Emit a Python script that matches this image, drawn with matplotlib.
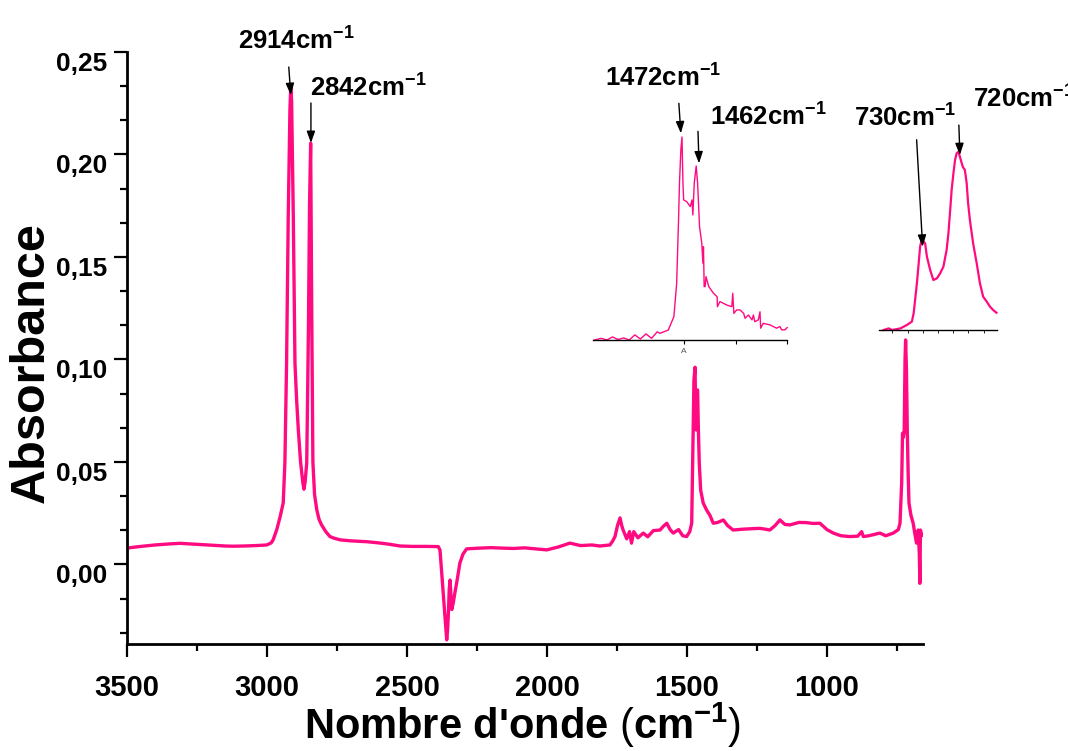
import numpy as np
import matplotlib
matplotlib.use("Agg")
import matplotlib.pyplot as plt
from matplotlib.ticker import MultipleLocator

# main spectrum (wavenumber in cm-1, absorbance)
wavenumber = [3500, 3450, 3400, 3350, 3310, 3250, 3200, 3150, 3121, 3080,
              3040, 3001, 2985, 2978, 2965, 2953, 2942, 2936, 2930, 2924,
              2918, 2915, 2912, 2906, 2900, 2894, 2888, 2880, 2872, 2868,
              2864, 2858, 2852, 2848, 2844, 2840, 2836, 2830, 2822, 2814,
              2805, 2790, 2775, 2760, 2739, 2700, 2644, 2600, 2560, 2525,
              2480, 2430, 2400, 2388, 2382, 2376, 2370, 2364, 2358, 2355,
              2352, 2349, 2346, 2343, 2340, 2335, 2329, 2320, 2311, 2300,
              2287, 2250, 2200, 2168, 2120, 2080, 2040, 2001, 1960, 1918,
              1880, 1840, 1811, 1790, 1775, 1765, 1757, 1748, 1739, 1733,
              1728, 1715, 1705, 1698, 1690, 1675, 1656, 1640, 1620, 1596,
              1585, 1572, 1560, 1549, 1530, 1515, 1501, 1490, 1483, 1478,
              1475, 1471, 1469, 1467, 1464, 1462, 1459, 1456, 1451, 1442,
              1430, 1418, 1406, 1390, 1370, 1355, 1335, 1300, 1260, 1239,
              1220, 1204, 1185, 1168, 1150, 1132, 1100, 1073, 1050, 1025,
              1000, 977, 950, 918, 890, 876, 870, 850, 811, 790,
              763, 745, 739, 733, 730, 727, 724, 721, 719, 716,
              713, 710, 707, 700, 692, 686, 680, 674, 670, 668,
              666, 662, 657]
absorbance = [0.0080, 0.0088, 0.0095, 0.0100, 0.0103, 0.0098, 0.0094, 0.0090, 0.0089, 0.0090,
              0.0092, 0.0095, 0.0105, 0.0120, 0.0170, 0.0233, 0.0300, 0.0495, 0.0980, 0.1700,
              0.2220, 0.2330, 0.2260, 0.1700, 0.0980, 0.0800, 0.0656, 0.0500, 0.0400, 0.0367,
              0.0400, 0.0495, 0.1140, 0.1750, 0.2055, 0.1200, 0.0500, 0.0340, 0.0266, 0.0220,
              0.0193, 0.0160, 0.0136, 0.0128, 0.0120, 0.0115, 0.0111, 0.0105, 0.0098, 0.0090,
              0.0088, 0.0088, 0.0087, 0.0087, 0.0070, -0.0040, -0.0157, -0.0260, -0.0368, -0.0320,
              -0.0237, -0.0120, -0.0076, -0.0150, -0.0220, -0.0190, -0.0140, -0.0070, 0.0007, 0.0050,
              0.0076, 0.0079, 0.0082, 0.0080, 0.0078, 0.0081, 0.0076, 0.0071, 0.0085, 0.0104,
              0.0092, 0.0095, 0.0090, 0.0093, 0.0095, 0.0115, 0.0136, 0.0190, 0.0227, 0.0190,
              0.0168, 0.0125, 0.0160, 0.0104, 0.0160, 0.0130, 0.0153, 0.0135, 0.0165, 0.0168,
              0.0185, 0.0201, 0.0170, 0.0153, 0.0170, 0.0140, 0.0136, 0.0160, 0.0201, 0.0656,
              0.0900, 0.0962, 0.0750, 0.0656, 0.0850, 0.0851, 0.0650, 0.0494, 0.0363, 0.0300,
              0.0266, 0.0240, 0.0201, 0.0205, 0.0217, 0.0190, 0.0168, 0.0172, 0.0175, 0.0176,
              0.0172, 0.0168, 0.0190, 0.0217, 0.0195, 0.0193, 0.0205, 0.0204, 0.0200, 0.0201,
              0.0170, 0.0153, 0.0140, 0.0136, 0.0138, 0.0160, 0.0136, 0.0140, 0.0153, 0.0140,
              0.0153, 0.0170, 0.0201, 0.0400, 0.0640, 0.0620, 0.0650, 0.1000, 0.1095, 0.0950,
              0.0656, 0.0450, 0.0300, 0.0240, 0.0201, 0.0150, 0.0104, 0.0168, 0.0050, -0.0092,
              0.0168, 0.0140, 0.0145]

# inset 1: zoom on the CH2 bending doublet (relative units)
inset1_wn = [1535, 1530, 1526, 1522, 1518, 1514, 1510, 1506, 1502, 1498,
             1494, 1490, 1488, 1482, 1478, 1476, 1474.6, 1474, 1473, 1472.2,
             1471.5, 1471, 1468.7, 1466.3, 1465, 1464.4, 1463.4, 1462, 1461, 1459.6,
             1458, 1457.2, 1456.8, 1456.3, 1455.6, 1455, 1453, 1449.6, 1447, 1446.8,
             1445, 1440, 1436.5, 1435.8, 1435, 1433, 1430.6, 1428, 1427, 1424.6,
             1422, 1421, 1420, 1417.5, 1416.3, 1415.8, 1414, 1409, 1404.4, 1402,
             1400.8, 1398.4, 1396.8]
inset1_val = [0.000, 0.008, 0.000, 0.015, 0.002, 0.010, 0.000, 0.025, 0.005, 0.030,
              0.008, 0.040, 0.033, 0.049, 0.115, 0.279, 0.607, 0.772, 0.936, 1.000,
              0.772, 0.690, 0.681, 0.657, 0.690, 0.616, 0.772, 0.857, 0.772, 0.558,
              0.476, 0.378, 0.459, 0.263, 0.263, 0.312, 0.263, 0.230, 0.213, 0.164,
              0.189, 0.172, 0.164, 0.230, 0.131, 0.148, 0.148, 0.131, 0.107, 0.123,
              0.099, 0.123, 0.090, 0.099, 0.139, 0.058, 0.082, 0.074, 0.058, 0.066,
              0.050, 0.050, 0.061]

# inset 2: zoom on the CH2 rocking doublet (relative units)
inset2_wn = [740.7, 739.3, 738.3, 736.0, 734.2, 732.8, 732.3, 731.9, 731.4, 730.9,
             730.5, 730.0, 729.5, 729.1, 728.6, 727.7, 726.8, 725.8, 724.9, 724.0,
             723.1, 722.6, 722.1, 721.7, 721.2, 720.75, 720.3, 719.8, 719.4, 718.6,
             718.0, 717.5, 717.1, 716.6, 715.7, 714.7, 713.8, 712.9, 711.9, 711.0,
             710.1, 709.2]
inset2_val = [0.000, 0.009, 0.000, 0.009, 0.028, 0.047, 0.094, 0.168, 0.262, 0.374,
              0.467, 0.514, 0.495, 0.486, 0.411, 0.337, 0.280, 0.290, 0.318, 0.355,
              0.449, 0.542, 0.673, 0.785, 0.879, 0.953, 0.991, 1.000, 0.972, 0.916,
              0.897, 0.823, 0.711, 0.617, 0.486, 0.374, 0.262, 0.187, 0.159, 0.131,
              0.112, 0.097]

xtick_vals = [3500, 3000, 2500, 2000, 1500, 1000]
xtick_labels = ["3500", "3000", "2500", "2000", "1500", "1000"]
ytick_vals = [0.00, 0.05, 0.10, 0.15, 0.20, 0.25]
ytick_labels = ["0,00", "0,05", "0,10", "0,15", "0,20", "0,25"]
inset1_ticks = [1470.6, 1433.4, 1397]
inset2_ticks = [738.3, 734.0, 729.8, 725.5, 721.3, 717.0, 712.8]

PINK = "#ff0a80"

plt.rcParams["font.family"] = "Liberation Sans"
plt.rcParams["mathtext.fontset"] = "custom"
plt.rcParams["mathtext.rm"] = "Liberation Sans:bold"
plt.rcParams["mathtext.bf"] = "Liberation Sans:bold"
plt.rcParams["mathtext.it"] = "Liberation Sans:bold"
plt.rcParams["mathtext.sf"] = "Liberation Sans"
plt.rcParams["mathtext.default"] = "bf"

fig = plt.figure(figsize=(10.68, 7.51), dpi=100)
ax = fig.add_axes([0.1189, 0.1425, 0.7453, 0.7883])
ax.plot(wavenumber, absorbance, color=PINK, lw=2.4)
ax.set_xlim(3500, 657)
ax.set_ylim(-0.0388, 0.25)

for s in ["top", "right"]:
    ax.spines[s].set_visible(False)
for s in ["left", "bottom"]:
    ax.spines[s].set_linewidth(2)

ax.set_xticks(xtick_vals, xtick_labels, fontsize=21, fontweight="bold")
ax.set_yticks(ytick_vals, ytick_labels, fontsize=19, fontweight="bold", va="top")
ax.xaxis.set_minor_locator(MultipleLocator(250))
ax.yaxis.set_minor_locator(MultipleLocator(0.05 / 3))
ax.tick_params(which="major", direction="out", length=9.5, width=1.6)
ax.tick_params(which="minor", direction="out", length=5, width=1.6)
ax.tick_params(axis="x", which="major", pad=12)
ax.tick_params(axis="y", which="major", pad=5)

ax.set_ylabel("Absorbance", fontsize=35, fontweight="bold")
ax.yaxis.set_label_coords(-0.092, 0.475)
ax.set_xlabel("Nombre d'onde $\\mathsf{(}$cm$^{-1}$$\\mathsf{)}$", fontsize=30, fontweight="bold")
ax.xaxis.set_label_coords(0.4975, -0.095)

# insets
ax1 = fig.add_axes([0.5552, 0.5473, 0.1816, 0.2703])
ax1.plot(inset1_wn, inset1_val, color=PINK, lw=1.0, clip_on=False)
ax1.set_xlim(1536, 1397)
ax1.set_ylim(0, 1)

ax2 = fig.add_axes([0.8233, 0.5606, 0.1100, 0.2374])
ax2.plot(inset2_wn, inset2_val, color=PINK, lw=1.6, clip_on=False)
ax2.set_xlim(741.9, 709.1)
ax2.set_ylim(0, 1)

for a in [ax1, ax2]:
    a.patch.set_visible(False)
    for s in ["top", "right", "left"]:
        a.spines[s].set_visible(False)
    a.spines["bottom"].set_linewidth(1.0)
    a.set_yticks([])
ax1.set_xticks(inset1_ticks, ["A", "", ""], fontsize=6, color="#555555")
ax1.tick_params(direction="out", length=3, width=0.8, pad=3)
ax2.set_xticks(inset2_ticks, [""] * len(inset2_ticks))
ax2.tick_params(direction="out", length=2, width=0.6)

# peak labels: (axes, text, tip x, tip y, text offset px, arrow tail offset px)
peaks = [
    (ax, "2914cm$^{-1}$", 2915, 0.229, (-53, 45), (-2, 28)),
    (ax, "2842cm$^{-1}$", 2843, 0.2056, (-1, 46), (0, 40)),
    (ax1, "1472cm$^{-1}$", 1473, 1.018, (-76, 47), (-2, 30)),
    (ax1, "1462cm$^{-1}$", 1460, 0.870, (11, 38), (-1, 32)),
    (ax2, "730cm$^{-1}$", 729.8, 0.467, (-69, 120), (-6, 107)),
    (ax2, "720cm$^{-1}$", 719.4, 0.981, (13, 47), (-1, 30)),
]
for a, label, px, py, toff, aoff in peaks:
    a.annotate("", xy=(px, py), xytext=aoff, textcoords="offset pixels",
               arrowprops=dict(arrowstyle="-|>,head_length=0.5,head_width=0.18",
                               color="black", lw=1, mutation_scale=14,
                               shrinkA=0, shrinkB=0),
               annotation_clip=False)
    a.annotate(label, xy=(px, py), xytext=toff, textcoords="offset pixels",
               fontsize=18.5, fontweight="bold", ha="left", va="baseline",
               annotation_clip=False)

fig.savefig("out.png", dpi=100)
